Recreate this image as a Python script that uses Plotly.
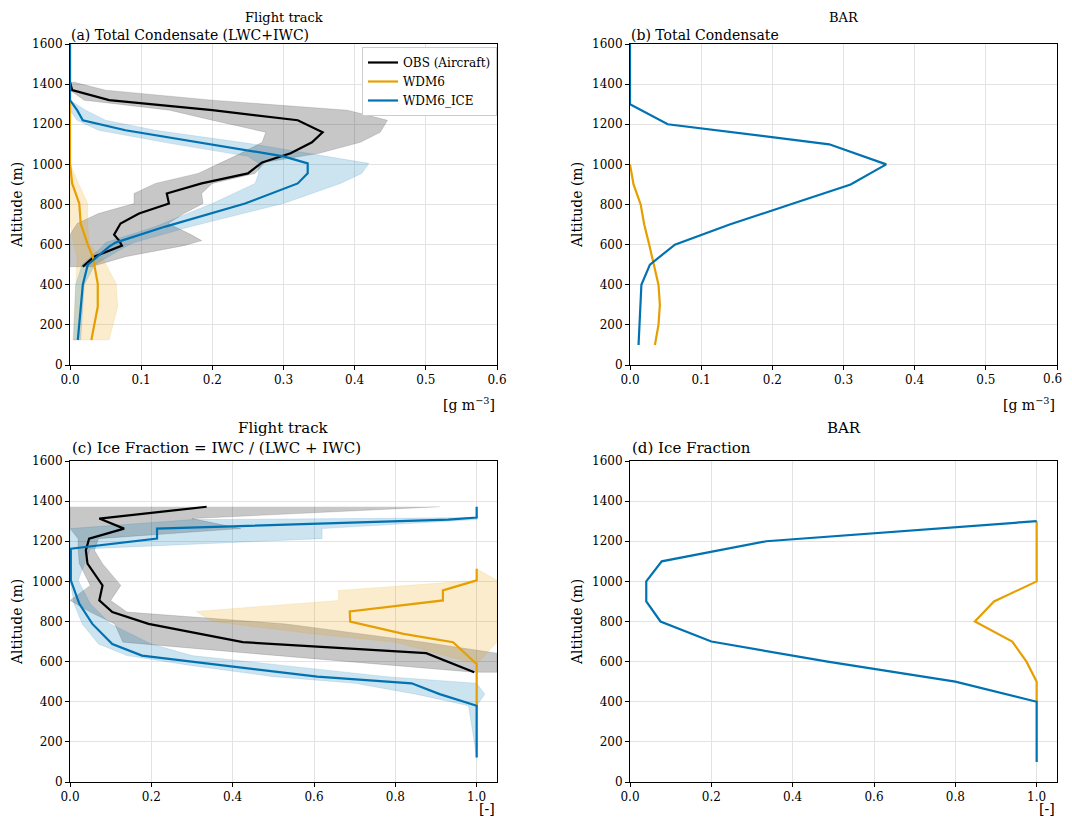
import plotly.graph_objects as go

BLACK = "#000000"; ORANGE = "#E69F00"; BLUE = "#0072B2"

# (a) Flight track total condensate
a_obs_alt = [1410,1370,1320,1270,1220,1160,1110,1055,1010,955,905,855,805,755,705,650,620,595,540,490]
a_obs_mean = [0.0,0.003,0.055,0.20,0.32,0.355,0.34,0.31,0.27,0.25,0.185,0.136,0.139,0.097,0.071,0.062,0.069,0.073,0.034,0.018]
a_obs_lo = [0,0,0.02,0.14,0.2,0.275,0.27,0.24,0.213,0.18,0.12,0.09,0.09,0.04,0.01,0,0,0,0,0]
a_obs_hi = [0.005,0.05,0.2,0.39,0.446,0.436,0.408,0.35,0.274,0.26,0.2,0.185,0.187,0.16,0.138,0.17,0.185,0.16,0.078,0.03]

a_ice_alt = [1600,1320,1270,1220,1170,1105,1040,1005,955,905,805,690,610,590,500,400,125]
a_ice_mean = [0,0,0.01,0.018,0.078,0.19,0.30,0.334,0.334,0.32,0.246,0.134,0.064,0.055,0.025,0.018,0.011]
a_ice_hi = [0,0.0,0.022,0.05,0.12,0.25,0.36,0.42,0.41,0.38,0.30,0.17,0.09,0.078,0.035,0.02,0.015]
a_ice_lo = [0,0,0,0.01,0.04,0.14,0.25,0.265,0.265,0.26,0.2,0.12,0.05,0.045,0.017,0.008,0.005]

a_wdm_alt = [1600,1005,905,805,705,600,540,405,290,125]
a_wdm_mean = [0,0,0.003,0.013,0.015,0.025,0.032,0.039,0.039,0.03]
a_wdm_hi = [0,0,0.012,0.025,0.025,0.027,0.045,0.065,0.067,0.055]
a_wdm_lo = [0,0,0,0,0,0.005,0.01,0.008,0.006,0.004]

# (b) BAR total condensate
b_ice_alt = [1600,1300,1200,1100,1000,900,800,700,600,500,400,100]
b_ice = [0,0,0.053,0.28,0.36,0.31,0.225,0.14,0.063,0.028,0.016,0.012]
b_wdm_alt = [1000,900,800,700,600,500,400,300,200,100]
b_wdm = [0.0,0.005,0.015,0.02,0.027,0.034,0.04,0.042,0.04,0.035]

# (c) Flight track ice fraction
c_obs_alt = [1372,1313,1263,1213,1155,1088,980,905,847,788,697,642,547]
c_obs_mean = [0.336,0.072,0.133,0.047,0.039,0.043,0.08,0.072,0.104,0.193,0.425,0.876,0.994]
c_obs_lo = [0,0,0,0.02,0.02,0.023,0.05,0.0,0.05,0.11,0.13,0.44,0.994]
c_obs_hi = [0.91,0.3,0.42,0.07,0.06,0.08,0.125,0.1,0.14,0.53,0.87,1.05,1.05]

c_ice_alt = [1318,1308,1263,1213,1163,1005,888,788,688,630,580,525,492,438,380,122]
c_ice_mean = [1.0,0.93,0.214,0.214,0.002,0.002,0.023,0.055,0.104,0.177,0.38,0.608,0.84,0.909,1.0,1.0]
c_ice_hi = [1.0,1.0,0.62,0.62,0.05,0.02,0.05,0.1,0.2,0.3,0.53,0.78,1.0,1.02,1.0,1.0]
c_ice_lo = [1.0,0.3,0.0,0.0,0.0,0.0,0.01,0.03,0.07,0.14,0.3,0.5,0.7,0.85,0.98,1.0]
c_ice_top_alt = [1372,1318]
c_ice_top = [1.0,1.0]

c_wdm_alt = [1063,1005,955,905,850,800,738,697,588,372]
c_wdm_mean = [1.0,1.0,0.917,0.917,0.688,0.689,0.82,0.942,1.0,1.0]
c_wdm_hi = [1.0,1.05,1.05,1.05,1.05,1.05,1.05,1.05,1.0,1.0]
c_wdm_lo = [1.0,1.0,0.66,0.66,0.31,0.35,0.6,0.8,1.0,1.0]

# (d) BAR ice fraction
d_ice_alt = [1300,1200,1100,1000,900,800,700,600,500,400,100]
d_ice = [1.0,0.335,0.078,0.04,0.04,0.075,0.2,0.486,0.80,1.0,1.0]
d_wdm_alt = [1300,1200,1100,1000,900,800,700,600,500,400]
d_wdm = [1.0,1.0,1.0,1.0,0.895,0.848,0.94,0.975,1.0,1.0]

cond_ticks = [0.0, 0.1, 0.2, 0.3, 0.4, 0.5, 0.6]

FONT = "DejaVu Serif"
fig = go.Figure()

def band(x_lo, x_hi, alt, color, ax):
    fig.add_trace(go.Scatter(x=list(x_hi) + list(x_lo)[::-1], y=list(alt) + list(alt)[::-1],
                             fill="toself", fillcolor=color, line=dict(width=0.6, color=color),
                             mode="lines", showlegend=False, hoverinfo="skip",
                             xaxis="x" + ax, yaxis="y" + ax))

def line(x, alt, color, ax, name=None, show=False):
    fig.add_trace(go.Scatter(x=x, y=alt, mode="lines", line=dict(color=color, width=2.2),
                             name=name, showlegend=show, xaxis="x" + ax, yaxis="y" + ax))

G = "rgba(0,0,0,0.22)"; O = "rgba(230,159,0,0.2)"; B = "rgba(0,114,178,0.2)"
band(a_obs_lo, a_obs_hi, a_obs_alt, G, "")
band(a_wdm_lo, a_wdm_hi, a_wdm_alt, O, "")
band(a_ice_lo, a_ice_hi, a_ice_alt, B, "")
line(a_obs_mean, a_obs_alt, BLACK, "", "OBS (Aircraft)", True)
line(a_wdm_mean, a_wdm_alt, ORANGE, "", "WDM6", True)
line(a_ice_mean, a_ice_alt, BLUE, "", "WDM6_ICE", True)

line(b_wdm, b_wdm_alt, ORANGE, "2")
line(b_ice, b_ice_alt, BLUE, "2")

band(c_obs_lo, c_obs_hi, c_obs_alt, G, "3")
band(c_wdm_lo, c_wdm_hi, c_wdm_alt, O, "3")
band(c_ice_lo, c_ice_hi, c_ice_alt, B, "3")
line(c_obs_mean, c_obs_alt, BLACK, "3")
line(c_wdm_mean, c_wdm_alt, ORANGE, "3")
line(c_ice_top + c_ice_mean, c_ice_top_alt + c_ice_alt, BLUE, "3")

line(d_wdm, d_wdm_alt, ORANGE, "4")
line(d_ice, d_ice_alt, BLUE, "4")

OFF = 8
W, H = 1072 - 2 * OFF, 827 - 2 * OFF
def fx(p): return (p - OFF) / W
def fy(p): return 1 - (p - OFF) / H
xd_l = [fx(70), fx(497)]; xd_r = [fx(630), fx(1057)]
yd_t = [fy(365), fy(44)]; yd_b = [fy(782), fy(461)]

common = dict(showline=True, linecolor="black", linewidth=1, mirror=True, ticks="outside",
              ticklen=4, tickcolor="black", showgrid=True, gridcolor="#e3e3e3", zeroline=False,
              automargin=False, tickfont=dict(family=FONT, size=12, color="black"))
def xa(dom, anchor, rng, dt, fmt):
    return dict(common, domain=dom, anchor=anchor, range=rng, dtick=dt, tickformat=fmt)
def ya(dom, anchor):
    return dict(common, domain=dom, anchor=anchor, range=[0, 1600], dtick=200,
                title=dict(text="Altitude (m)", font=dict(family=FONT, size=14, color="black"), standoff=6))

x2 = xa(xd_r, "y2", [0, 0.6], 0.1, ".1f")
x2.update(tickmode="array", tickvals=cond_ticks, ticktext=[f"{v:.1f}" for v in cond_ticks[:-1]] + [""])

fig.update_layout(
    width=W, height=H, margin=dict(l=0, r=0, t=0, b=0),
    plot_bgcolor="white", paper_bgcolor="white",
    font=dict(family=FONT, color="black"),
    xaxis=xa(xd_l, "y", [0, 0.6], 0.1, ".1f"), yaxis=ya(yd_t, "x"),
    xaxis2=x2, yaxis2=ya(yd_t, "x2"),
    xaxis3=xa(xd_l, "y3", [0, 1.05], 0.2, ".1f"), yaxis3=ya(yd_b, "x3"),
    xaxis4=xa(xd_r, "y4", [0, 1.05], 0.2, ".1f"), yaxis4=ya(yd_b, "x4"),
    legend=dict(x=fx(497), y=fy(47), xanchor="right", yanchor="top", bgcolor="white",
                bordercolor="#cccccc", borderwidth=1, font=dict(family=FONT, size=12)),
)

fig.add_annotation(text=f"{cond_ticks[-1]:.1f}", x=cond_ticks[-1], xref="x2", y=fy(370), yref="paper",
                   xanchor="right", yanchor="top", xshift=7, showarrow=False,
                   font=dict(family=FONT, size=12, color="black"))

def ann(text, x, y, xanchor, size=15, pad=1):
    fig.add_annotation(text=text, x=x, y=y, xref="paper", yref="paper", xanchor=xanchor,
                       yanchor="bottom", showarrow=False, borderpad=pad,
                       font=dict(family=FONT, size=size, color="black"))

ann("Flight track", (xd_l[0] + xd_l[1]) / 2, fy(26), "center", 13, 0)
ann("(a) Total Condensate (LWC+IWC)", xd_l[0], fy(44), "left", 14, 0)
ann("BAR", (xd_r[0] + xd_r[1]) / 2, fy(26), "center", 13, 0)
ann("(b) Total Condensate", xd_r[0], fy(44), "left", 14, 0)
ann("Flight track", (xd_l[0] + xd_l[1]) / 2, fy(439), "center")
ann("(c) Ice Fraction = IWC / (LWC + IWC)", xd_l[0], fy(459), "left")
ann("BAR", (xd_r[0] + xd_r[1]) / 2, fy(439), "center")
ann("(d) Ice Fraction", xd_r[0], fy(459), "left")
ann("[g m<sup>−3</sup>]", xd_l[1], fy(415), "right", 14)
ann("[g m<sup>−3</sup>]", xd_r[1], fy(415), "right", 14)
ann("[-]", xd_l[1], 0, "right", 14)
ann("[-]", xd_r[1], 0, "right", 14)

fig.write_html("out.html")
